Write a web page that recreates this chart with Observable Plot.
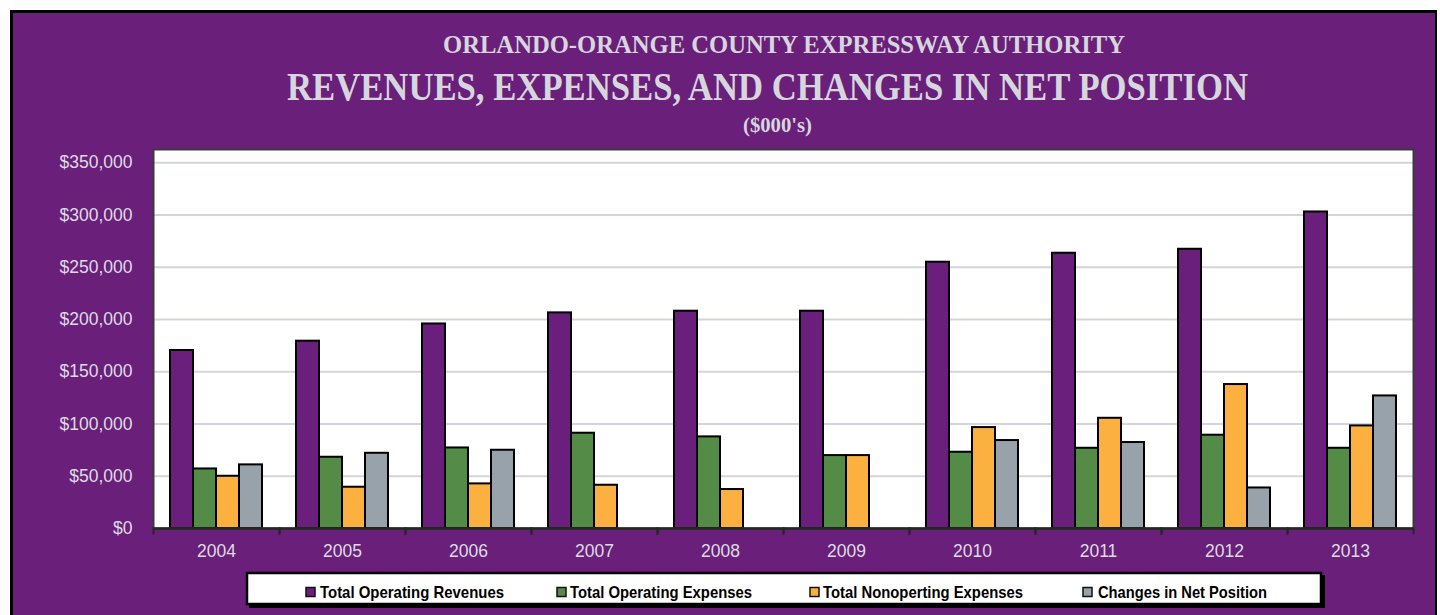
<!DOCTYPE html>
<html><head><meta charset="utf-8">
<script src="https://cdn.jsdelivr.net/npm/d3@7"></script>
<script src="https://cdn.jsdelivr.net/npm/@observablehq/plot@0.6"></script>
<style>
body{margin:0;background:#fff;width:1440px;height:615px;overflow:hidden;position:relative}
#panel{position:absolute;left:10px;top:10px;width:1422px;height:640px;border:3px solid #000;border-right-width:2px;border-bottom:none;background:#6a207a;box-sizing:content-box}
#wrap{position:absolute;left:0;top:0;width:1440px}
svg{display:block}
</style></head><body>
<div id="panel"></div>
<div id="wrap"></div>
<script>
// ---- data ($000's) ----
const years = ["2004","2005","2006","2007","2008","2009","2010","2011","2012","2013"];
const series = ["Total Operating Revenues","Total Operating Expenses","Total Nonoperting Expenses","Changes in Net Position"];
const colors = ["#6b1f7c","#548b46","#fbb040","#97a2aa"];
const operatingRevenues   = [170400,179300,195800,206400,208000,208000,254900,263500,267300,303000];
const operatingExpenses   = [57000,68200,77100,91200,87700,69800,73000,76800,89300,76800];
const nonoperExpenses     = [50000,39500,42700,41400,37300,69800,96600,105500,137800,98200];
const netPositionChanges  = [60900,72000,74900,null,null,null,84200,82300,38800,126900];
const yTicks = [0,50000,100000,150000,200000,250000,300000,350000];
const titleLines = ["ORLANDO-ORANGE COUNTY EXPRESSWAY AUTHORITY","REVENUES, EXPENSES, AND CHANGES IN NET POSITION","($000's)"];

const seriesValues = [operatingRevenues, operatingExpenses, nonoperExpenses, netPositionChanges];
const data = years.flatMap((year, i) => series.map((s, j) => ({year, series: s, value: seriesValues[j][i]})))
  .filter(d => d.value != null);

const wrap = document.getElementById("wrap");

// ---- titles ----
const tsvg = d3.create("svg").attr("width", 1440).attr("height", 140);
const titleSpecs = [
  {x: 443, y: 53, size: 26, len: 682},
  {x: 287, y: 100, size: 40, len: 961},
  {x: 743, y: 132, size: 21, len: 69}
];
titleLines.forEach((t, i) => {
  const s = titleSpecs[i];
  tsvg.append("text").attr("x", s.x).attr("y", s.y)
    .attr("font-family", "'Liberation Serif','Times New Roman',serif")
    .attr("font-weight", "bold").attr("font-size", s.size)
    .attr("fill", "#d6d6dd")
    .attr("textLength", s.len).attr("lengthAdjust", "spacingAndGlyphs")
    .text(t);
});
wrap.appendChild(tsvg.node());

// ---- chart ----
const H = 430, mt = 9, mb = 42, plotH = H - mt - mb;
const chart = Plot.plot({
  width: 1440, height: H,
  marginLeft: 152, marginRight: 26, marginTop: mt, marginBottom: mb,
  style: {background: "transparent", fontFamily: "'Liberation Sans',Arial,sans-serif", fontSize: "17.5px", color: "#dcdce2"},
  fx: {domain: years, padding: 0, label: null},
  x: {domain: series, paddingInner: 0, paddingOuter: 0.714, axis: null},
  y: {domain: [0, 362800], label: null},
  color: {domain: series, range: colors},
  marks: [
    Plot.frame({facet: "super", fill: "white", stroke: null}),
    Plot.gridY(yTicks.slice(1), {stroke: "#d2d5d9", strokeOpacity: 1, strokeWidth: 2}),
    Plot.barY(data, {fx: "year", x: "series", y: "value", fill: "series", stroke: "black", strokeWidth: 2}),
    Plot.frame({facet: "super", stroke: "#3a3a3a", strokeWidth: 2}),
    Plot.ruleY([0], {stroke: "#262626", strokeWidth: 2.5}),
    Plot.frame({anchor: "left", stroke: "#262626", strokeWidth: 2, insetTop: plotH, insetBottom: -5}),
    Plot.frame({anchor: "right", stroke: "#262626", strokeWidth: 2, insetTop: plotH, insetBottom: -5}),
    Plot.axisY(yTicks, {tickSize: 0, tickPadding: 21, tickFormat: d => "$" + d3.format(",")(d)}),
    Plot.axisFx({anchor: "bottom", tickSize: 0, tickPadding: 16})
  ]
});
wrap.appendChild(chart);

// ---- legend ----
const lsvg = d3.create("svg").attr("width", 1440).attr("height", 45);
lsvg.append("rect").attr("x", 249).attr("y", 5).attr("width", 1076).attr("height", 33).attr("fill", "#000");
lsvg.append("rect").attr("x", 247).attr("y", 3).attr("width", 1074).attr("height", 31)
  .attr("fill", "#fff").attr("stroke", "#000").attr("stroke-width", 2.5);
const legendLayout = [
  {sx: 306, tx: 320, len: 184},
  {sx: 557, tx: 570, len: 182},
  {sx: 810, tx: 823, len: 200},
  {sx: 1083, tx: 1098, len: 169}
];
series.forEach((s, i) => {
  const L = legendLayout[i];
  lsvg.append("rect").attr("x", L.sx).attr("y", 17.5).attr("width", 9).attr("height", 9)
    .attr("fill", colors[i]).attr("stroke", "#111").attr("stroke-width", 1.5);
  lsvg.append("text").attr("x", L.tx).attr("y", 28.3)
    .attr("font-family", "'Liberation Sans',Arial,sans-serif").attr("font-weight", "bold")
    .attr("font-size", 17).attr("fill", "#000")
    .attr("textLength", L.len).attr("lengthAdjust", "spacingAndGlyphs")
    .text(s);
});
wrap.appendChild(lsvg.node());
</script>
</body></html>
